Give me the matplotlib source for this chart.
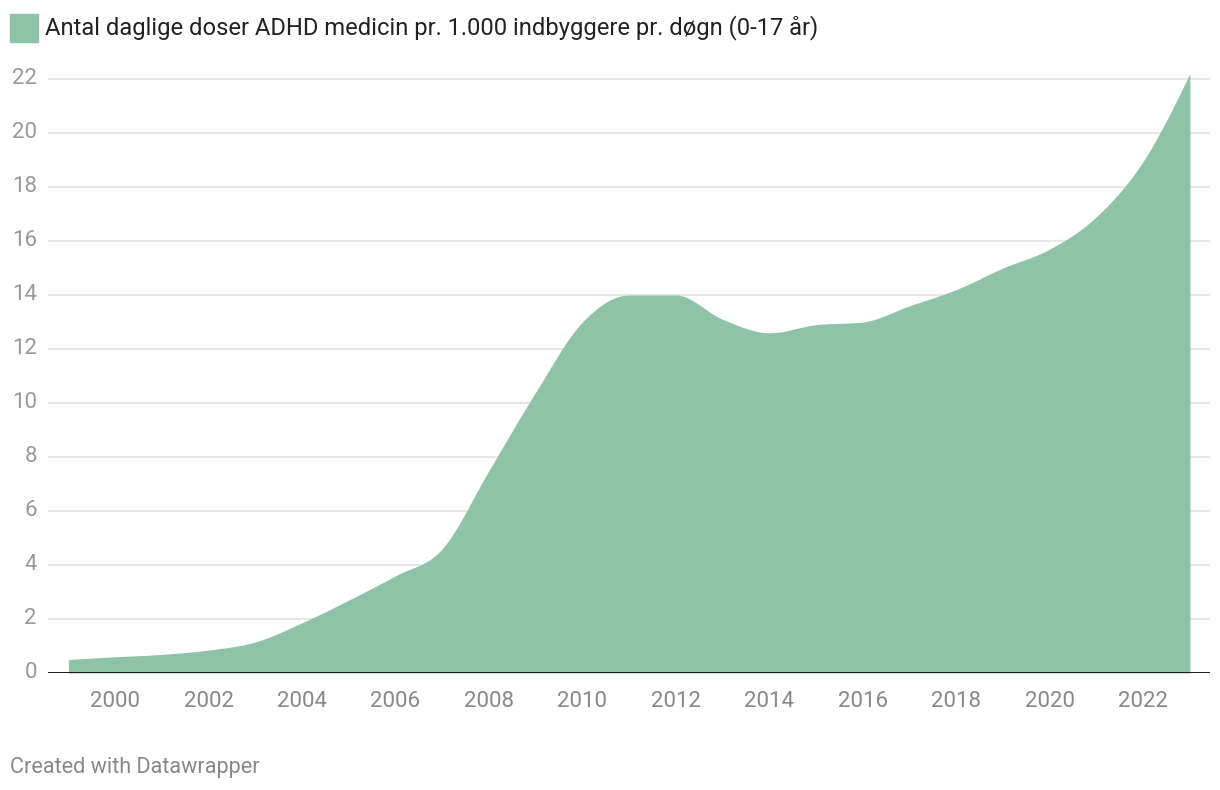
import numpy as np
import matplotlib
matplotlib.use("Agg")
import matplotlib.pyplot as plt

years = [1999, 2000, 2001, 2002, 2003, 2004, 2005, 2006, 2007, 2008, 2009, 2010,
         2011, 2012, 2013, 2014, 2015, 2016, 2017, 2018, 2019, 2020, 2021, 2022, 2023]
doses = [0.5, 0.6, 0.69, 0.85, 1.15, 1.86, 2.7, 3.6, 4.6, 7.5, 10.4, 13.0,
         14.0, 14.0, 13.1, 12.6, 12.9, 13.0, 13.6, 14.2, 15.0, 15.7, 16.9, 18.95, 22.2]
y_ticks = [0, 2, 4, 6, 8, 10, 12, 14, 16, 18, 20, 22]
x_ticks = [2000, 2002, 2004, 2006, 2008, 2010, 2012, 2014, 2016, 2018, 2020, 2022]
title = "Antal daglige doser ADHD medicin pr. 1.000 indbyggere pr. døgn (0-17 år)"
footer = "Created with Datawrapper"

GREEN = "#8fc3a8"
plt.rcParams['font.family'] = ['Roboto', 'DejaVu Sans']


def monotone_x(x, y, n=40):
    x = np.asarray(x, float)
    y = np.asarray(y, float)
    m = len(x)
    h = np.diff(x)
    s = np.diff(y) / h
    t = np.zeros(m)
    for i in range(1, m - 1):
        h0, h1 = h[i - 1], h[i]
        s0, s1 = s[i - 1], s[i]
        p = (s0 * h1 + s1 * h0) / (h0 + h1)
        t[i] = (np.sign(s0) + np.sign(s1)) * min(abs(s0), abs(s1), 0.5 * abs(p))
    t[0] = (3 * s[0] - t[1]) / 2
    t[-1] = (3 * s[-1] - t[-2]) / 2
    xs, ys = [], []
    for i in range(m - 1):
        u = np.linspace(0, 1, n, endpoint=(i == m - 2))
        hh = h[i]
        h00 = 2 * u**3 - 3 * u**2 + 1
        h10 = u**3 - 2 * u**2 + u
        h01 = -2 * u**3 + 3 * u**2
        h11 = u**3 - u**2
        xs.append(x[i] + u * hh)
        ys.append(h00 * y[i] + h10 * hh * t[i] + h01 * y[i + 1] + h11 * hh * t[i + 1])
    return np.concatenate(xs), np.concatenate(ys)


fig = plt.figure(figsize=(12.2, 7.9), dpi=100)
left = 48 / 1220
width = (1210 - 48) / 1220
bottom = (790 - 673) / 790
ymax = 23
height = 27 * ymax / 790
ax = fig.add_axes([left, bottom, width, height])

xs, ys = monotone_x(years, doses)
ax.fill_between(xs, 0, ys, color=GREEN, linewidth=0, zorder=2)

ax.set_xlim(1998.565, 2023.43)
ax.set_ylim(0, ymax)
ax.set_yticks(y_ticks)
ax.set_xticks(x_ticks)
ax.set_yticklabels([str(v) for v in y_ticks])
ax.set_xticklabels([str(v) for v in x_ticks])

for v in y_ticks[1:]:
    ax.axhline(v, color="#e3e3e3", linewidth=1.2, zorder=1)
ax.axhline(0, color="#1a1a1a", linewidth=1.4, zorder=3)

for sp in ax.spines.values():
    sp.set_visible(False)
ax.tick_params(axis="both", length=0)
ax.tick_params(axis="x", pad=13, labelsize=16, labelcolor="#888888")
ax.tick_params(axis="y", pad=8, labelsize=16, labelcolor="#999999")
for lab in ax.get_yticklabels():
    lab.set_verticalalignment("center")

fig.patches.append(matplotlib.patches.Rectangle((10 / 1220, 1 - 42 / 790), 28 / 1220, 28 / 790,
                                                transform=fig.transFigure, color=GREEN, figure=fig))
fig.text(45 / 1220, 1 - 28 / 790, title, fontsize=17.1, color="#222222", va="center", ha="left")
fig.text(10 / 1220, 1 - 767 / 790, footer, fontsize=15.6, color="#888888", va="center", ha="left")

fig.savefig("out.png", dpi=100)
